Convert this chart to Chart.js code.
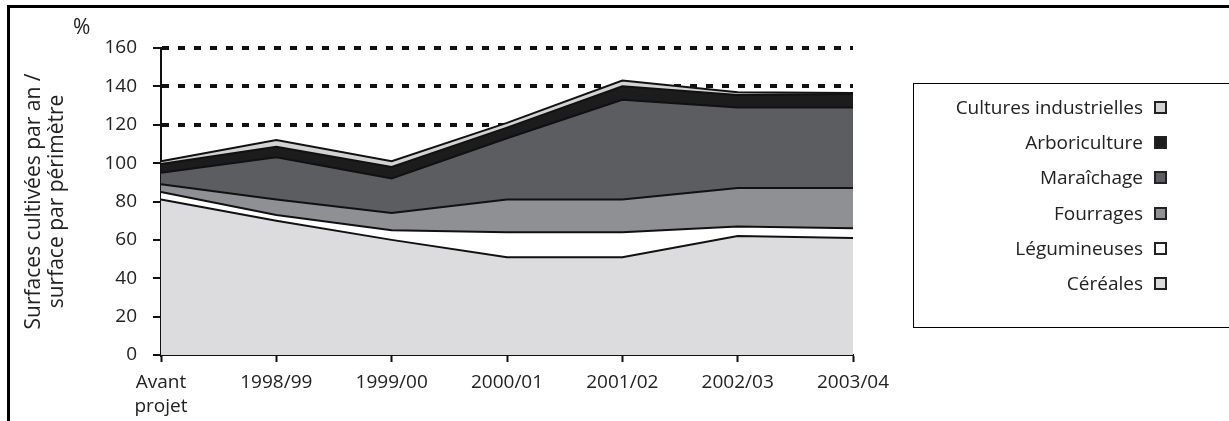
<!DOCTYPE html>
<html>
<head>
<meta charset="utf-8">
<script src="https://cdn.jsdelivr.net/npm/chart.js@4"></script>
<style>
  body { margin: 0; background: #fff; font-family: "Open Sans", sans-serif; }
  #wrap { position: relative; width: 1229px; height: 421px; overflow: hidden; }
  #frame { position: absolute; left: 7px; top: 5px; width: 1300px; height: 500px;
           border-top: 3px solid #000; border-left: 3px solid #000; }
  #chartBox { position: absolute; left: 0; top: 0; width: 1229px; height: 421px; }
  #pct { position: absolute; left: 73px; top: 12px; font-size: 21px; color: #222; }
  #legend { position: absolute; left: 913px; top: 83px; width: 400px; height: 243px;
            border: 1.5px solid #000; }
  .item { position: absolute; right: 147px; height: 22px; line-height: 22px;
          font-size: 19px; color: #222; white-space: nowrap; }
  .item span.box { display: inline-block; width: 9px; height: 9px; border: 2px solid #222;
                   margin-left: 11px; vertical-align: 0px; }
</style>
</head>
<body>
<div id="wrap">
  <div id="frame"></div>
  <div id="chartBox"><canvas id="graph" width="1229" height="421"></canvas></div>
  <div id="pct">%</div>
  <div id="legend"></div>
</div>
<script>
// categories (x axis)
var years = [['Avant', 'projet'], '1998/99', '1999/00', '2000/01', '2001/02', '2002/03', '2003/04'];

// series values, % (stacked, bottom first)
var cereales     = [81, 70, 60, 51, 51, 62, 61];
var legumineuses = [4, 3, 5, 13, 13, 5, 5];
var fourrages    = [4, 8, 9, 17, 17, 20, 21];
var maraichage   = [6, 22, 18, 32, 52, 42, 42];
var arbo         = [4.5, 5.5, 6, 5.5, 7, 6.5, 7];
var industrielles = [1.5, 3.5, 3, 2.5, 3, 1.5, 0.5];

var seriesNames = ['Céréales', 'Légumineuses', 'Fourrages', 'Maraîchage', 'Arboriculture', 'Cultures industrielles'];
var seriesData = [cereales, legumineuses, fourrages, maraichage, arbo, industrielles];
var seriesColors = ['#dcdcde', '#ffffff', '#8f9093', '#5c5d61', '#1c1c1c', '#d2d2d2'];

var yTicks = [0, 20, 40, 60, 80, 100, 120, 140, 160];

var datasets = seriesNames.map(function(name, i) {
  return {
    label: name,
    data: seriesData[i],
    backgroundColor: seriesColors[i],
    borderColor: '#111',
    borderWidth: 2,
    pointRadius: 0,
    tension: 0,
    fill: i === 0 ? 'origin' : '-1'
  };
});

var ctx = document.getElementById('graph').getContext('2d');
window.myChart = new Chart(ctx, {
  type: 'line',
  data: { labels: years, datasets: datasets },
  options: {
    responsive: false,
    animation: false,
    layout: { padding: { left: 10, right: 376, top: 48, bottom: 0 } },
    plugins: { legend: { display: false }, tooltip: { enabled: false } },
    scales: {
      x: {
        offset: false,
        grid: { drawOnChartArea: false, drawTicks: true, tickLength: 7, tickColor: '#111', tickWidth: 2 },
        border: { display: true, color: '#111', width: 2 },
        ticks: { color: '#222', padding: 9, maxRotation: 0, autoSkip: false,
                 font: { family: 'Open Sans', size: 19, lineHeight: 1.25 } },
        afterFit: function(scale) { scale.height = 66; }
      },
      y: {
        stacked: true,
        min: 0,
        max: 160,
        afterBuildTicks: function(scale) { scale.ticks = yTicks.map(function(v) { return { value: v }; }); },
        grid: {
          color: function(c) { return c.tick && c.tick.value >= 120 ? '#111' : 'rgba(0,0,0,0)'; },
          lineWidth: 4,
          drawTicks: true,
          tickLength: 8,
          tickColor: '#111',
          tickWidth: 2,
          tickBorderDash: []
        },
        border: { display: true, color: '#111', width: 2, dash: [7, 9] },
        ticks: { color: '#222', padding: 16, font: { family: 'Open Sans', size: 19 } },
        title: {
          display: true,
          text: ['Surfaces cultivées par an /', 'surface par périmètre'],
          color: '#222',
          padding: { top: 12, bottom: 0 },
          font: { family: 'Open Sans', size: 21, lineHeight: 1.1 }
        },
        afterFit: function(scale) { scale.width = 151; }
      }
    }
  }
});

// legend on the right, top series first
var legend = document.getElementById('legend');
for (var i = seriesNames.length - 1; i >= 0; i--) {
  var row = document.createElement('div');
  row.className = 'item';
  row.style.top = (12 + (seriesNames.length - 1 - i) * 35.2) + 'px';
  row.appendChild(document.createTextNode(seriesNames[i]));
  var box = document.createElement('span');
  box.className = 'box';
  box.style.background = seriesColors[i];
  row.appendChild(box);
  legend.appendChild(row);
}
</script>
</body>
</html>
